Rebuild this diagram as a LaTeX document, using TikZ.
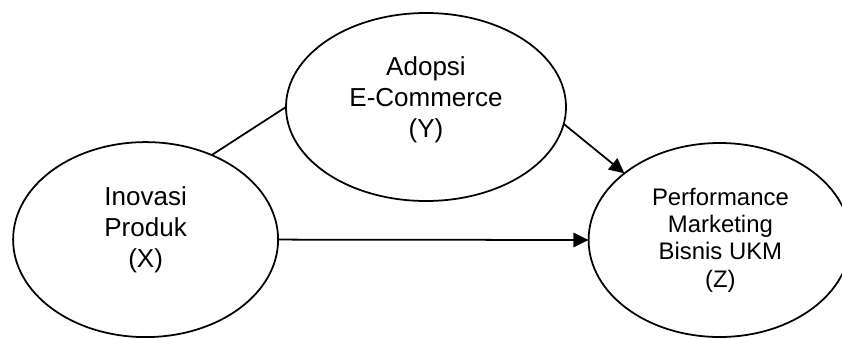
\documentclass[tikz,border=0pt]{standalone}
\usepackage{fontspec}
\setmainfont{Liberation Sans}
\usepackage{tikz}
\usetikzlibrary{arrows.meta, positioning, shapes.geometric}

\begin{document}
\begin{tikzpicture}[
    var/.style={
        draw,
        ellipse,
        line width=1.25pt,
        inner sep=0pt,
        outer sep=0pt
    },
    vartext/.style={
        align=center,
        font=\fontsize{18.5}{22}\selectfont
    },
    arrow/.style={-{Triangle[length=0.38cm, width=0.36cm]}, line width=1.25pt}
]
\useasboundingbox (0,0) rectangle (21.05,8.45);

\node[var, minimum width=6.625cm, minimum height=4.875cm] (inovasi) at (3.64,2.46) {};
\node[var, minimum width=7.0cm, minimum height=4.7cm] (adopsi) at (10.65,5.775) {};
\node[var, minimum width=6.55cm, minimum height=4.85cm] (kinerja) at (17.99,2.45) {};

\node[vartext] (inovasi-txt) at ([yshift=0.24cm]inovasi.center) {Inovasi \\ Produk \\ (X)};
\node[vartext] (adopsi-txt) at ([yshift=0.18cm]adopsi.center) {Adopsi \\ E-Commerce \\ (Y)};
\node[vartext, font=\fontsize{17}{19.5}\selectfont] (kinerja-txt) at ([xshift=0.02cm]kinerja.center)
    {Performance \\ Marketing \\ Bisnis UKM \\ (Z)};

\draw[line width=1.25pt] (inovasi.52) -- (adopsi.west);
\draw[arrow] (adopsi.-7) -- (kinerja.145);
\draw[arrow] (inovasi.east) -- (kinerja.west);
\end{tikzpicture}
\end{document}
